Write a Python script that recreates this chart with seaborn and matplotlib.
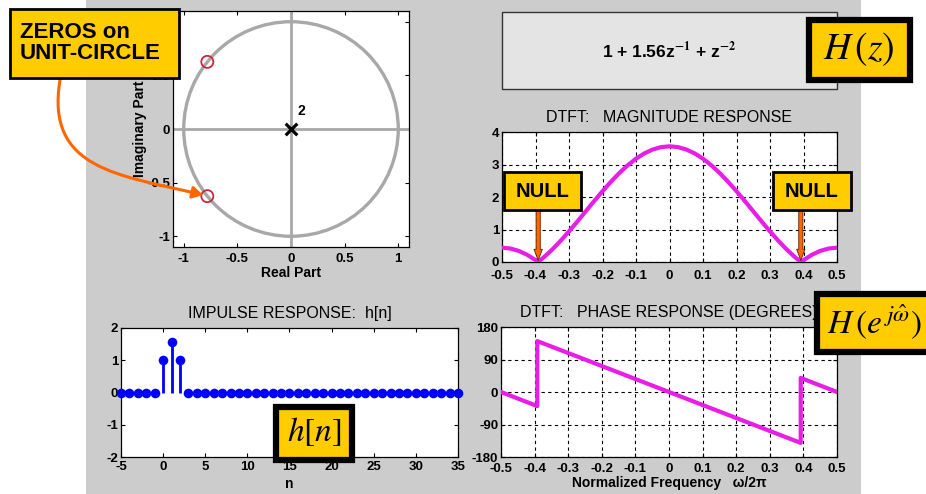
import numpy as np
import pandas as pd
import matplotlib
matplotlib.use('Agg')
import matplotlib.pyplot as plt
import seaborn as sns
from matplotlib.patches import Rectangle, FancyArrowPatch
from matplotlib.path import Path

# ------------------------------------------------------------
#  Data
# ------------------------------------------------------------
zero_re = [-0.78, -0.78]
zero_im = [0.626, -0.626]
pole_re = [0.0]
pole_im = [0.0]
pole_order = "2"

n_vals = [-5, -4, -3, -2, -1, 0, 1, 2, 3, 4, 5, 6, 7, 8, 9, 10, 11, 12, 13, 14,
          15, 16, 17, 18, 19, 20, 21, 22, 23, 24, 25, 26, 27, 28, 29, 30, 31,
          32, 33, 34, 35]
h_vals = [0, 0, 0, 0, 0, 1, 1.56, 1, 0, 0, 0, 0, 0, 0, 0, 0, 0, 0, 0, 0,
          0, 0, 0, 0, 0, 0, 0, 0, 0, 0, 0, 0, 0, 0, 0, 0, 0, 0, 0, 0, 0]

freq = [-0.5, -0.475, -0.45, -0.425, -0.4, -0.392, -0.375, -0.35, -0.325, -0.3,
        -0.275, -0.25, -0.225, -0.2, -0.175, -0.15, -0.125, -0.1, -0.075, -0.05,
        -0.025, 0.0, 0.025, 0.05, 0.075, 0.1, 0.125, 0.15, 0.175, 0.2, 0.225,
        0.25, 0.275, 0.3, 0.325, 0.35, 0.375, 0.392, 0.4, 0.425, 0.45, 0.475, 0.5]
mag = [0.44, 0.415, 0.342, 0.222, 0.058, 0.0, 0.146, 0.384, 0.652, 0.942,
       1.247, 1.56, 1.873, 2.178, 2.468, 2.736, 2.974, 3.178, 3.342, 3.462,
       3.535, 3.56, 3.535, 3.462, 3.342, 3.178, 2.974, 2.736, 2.468, 2.178, 1.873,
       1.56, 1.247, 0.942, 0.652, 0.384, 0.146, 0.0, 0.058, 0.222, 0.342, 0.415, 0.44]

phase_f = [-0.5, -0.392, -0.392, 0.392, 0.392, 0.5]
phase_deg = [0, -39, 141, -141, 39, 0]

null_f = [-0.392, 0.392]

freq_ticks = [-0.5, -0.4, -0.3, -0.2, -0.1, 0, 0.1, 0.2, 0.3, 0.4, 0.5]
freq_labels = ["-0.5", "-0.4", "-0.3", "-0.2", "-0.1", "0", "0.1", "0.2", "0.3", "0.4", "0.5"]

# ------------------------------------------------------------
#  Style
# ------------------------------------------------------------
sns.set_theme(style="ticks")
plt.rcParams['font.family'] = ['Liberation Sans', 'DejaVu Sans']
plt.rcParams['mathtext.fontset'] = 'stix'
plt.rcParams['axes.unicode_minus'] = False
plt.rcParams['text.color'] = 'black'
plt.rcParams['axes.labelcolor'] = 'black'
plt.rcParams['xtick.color'] = 'black'
plt.rcParams['ytick.color'] = 'black'
plt.rcParams['xtick.direction'] = 'in'
plt.rcParams['ytick.direction'] = 'in'
plt.rcParams['xtick.major.size'] = 3
plt.rcParams['ytick.major.size'] = 3
plt.rcParams['ytick.major.pad'] = 2

W, H = 926, 494
GRIS = '#CCCCCC'
JAUNE = '#FFCC00'
ORANGE = '#FF6600'
MAGENTA = '#E81EE8'
BLEU = '#0000FF'

fig = plt.figure(figsize=(W / 100, H / 100), dpi=100)
fig.patch.set_facecolor('white')


def rect_px(x0, y0, x1, y1):
    """pixels (haut-gauche) -> fraction de figure"""
    return [x0 / W, 1 - y1 / H, (x1 - x0) / W, (y1 - y0) / H]


def fx(x):
    return x / W


def fy(y):
    return 1 - y / H


def style_axes(ax, xpad=4):
    for s in ax.spines.values():
        s.set_color('black')
        s.set_linewidth(0.9)
    ax.tick_params(top=True, right=True, labelsize=9.5, colors='black', width=0.8)
    ax.tick_params(axis='x', pad=xpad)
    for lab in ax.get_xticklabels() + ax.get_yticklabels():
        lab.set_fontweight('bold')


# fond gris
fig.patches.append(Rectangle((fx(86), 0), fx(861) - fx(86), 1, transform=fig.transFigure,
                             facecolor=GRIS, edgecolor='none', zorder=-5))

# ------------------------------------------------------------
#  Pole-zero plot
# ------------------------------------------------------------
ax_pz = fig.add_axes(rect_px(173, 11, 409, 247))
ax_pz.set_facecolor('white')
ax_pz.axhline(0, color='#A8A8A8', lw=2, zorder=1)
ax_pz.axvline(0, color='#A8A8A8', lw=2, zorder=1)
ax_pz.add_patch(plt.Circle((0, 0), 1, fill=False, color='#A8A8A8', lw=2.4, zorder=2))
df_z = pd.DataFrame({'re': zero_re, 'im': zero_im})
sns.scatterplot(data=df_z, x='re', y='im', ax=ax_pz, marker='o', s=75,
                facecolors='none', edgecolor='#C8283C', linewidth=1.3, zorder=4)
df_p = pd.DataFrame({'re': pole_re, 'im': pole_im})
sns.scatterplot(data=df_p, x='re', y='im', ax=ax_pz, marker='x', s=70,
                color='black', linewidth=2.3, zorder=4)
ax_pz.text(pole_re[0] + 0.06, pole_im[0] + 0.1, pole_order, fontsize=10, fontweight='bold',
           ha='left', va='bottom')
ax_pz.set_xlim(-1.1, 1.1)
ax_pz.set_ylim(-1.1, 1.1)
ax_pz.set_xticks([-1, -0.5, 0, 0.5, 1])
ax_pz.set_xticklabels(["-1", "-0.5", "0", "0.5", "1"])
ax_pz.set_yticks([-1, -0.5, 0, 0.5, 1])
ax_pz.set_yticklabels(["-1", "-0.5", "0", "0.5", "1"])
ax_pz.set_xlabel('Real Part', fontsize=10, fontweight='bold', labelpad=1)
ax_pz.set_ylabel('Imaginary Part', fontsize=10, fontweight='bold', labelpad=0)
style_axes(ax_pz)

# ------------------------------------------------------------
#  Formula box
# ------------------------------------------------------------
fig.patches.append(Rectangle((fx(502), fy(89)), fx(837) - fx(502), fy(12) - fy(89),
                             transform=fig.transFigure, facecolor='#E4E4E4',
                             edgecolor='#333333', lw=1, zorder=1))
fig.text(fx(669), fy(51), r'1 + 1.56z$^{\mathbf{-1}}$ + z$^{\mathbf{-2}}$', fontsize=12.5,
         fontweight='bold', ha='center', va='center', zorder=3)

# ------------------------------------------------------------
#  Magnitude response
# ------------------------------------------------------------
ax_mag = fig.add_axes(rect_px(502, 132, 837, 262))
ax_mag.set_facecolor('white')
df_mag = pd.DataFrame({'f': freq, 'mag': mag})
sns.lineplot(data=df_mag, x='f', y='mag', ax=ax_mag, color=MAGENTA, lw=3, sort=False,
             estimator=None, zorder=3)
ax_mag.set_xlim(-0.5, 0.5)
ax_mag.set_ylim(0, 4)
ax_mag.set_xticks(freq_ticks)
ax_mag.set_xticklabels(freq_labels)
ax_mag.set_yticks([0, 1, 2, 3, 4])
ax_mag.grid(True, color='black', ls=(0, (3, 3)), lw=0.8)
ax_mag.set_xlabel('')
ax_mag.set_ylabel('')
ax_mag.set_title('DTFT:   MAGNITUDE RESPONSE', fontsize=11.5, pad=7, color='black')
style_axes(ax_mag, xpad=5.5)

# ------------------------------------------------------------
#  Impulse response
# ------------------------------------------------------------
ax_h = fig.add_axes(rect_px(121, 328, 458, 457))
ax_h.set_facecolor('white')
df_h = pd.DataFrame({'n': n_vals, 'h': h_vals})
df_nz = df_h[df_h['h'] != 0]
ax_h.vlines(df_nz['n'], 0, df_nz['h'], color=BLEU, lw=2, zorder=2)
sns.scatterplot(data=df_h, x='n', y='h', ax=ax_h, color=BLEU, s=48, edgecolor=BLEU,
                linewidth=0, zorder=3, clip_on=False)
ax_h.set_xlim(-5, 35)
ax_h.set_ylim(-2, 2)
ax_h.set_xticks([-5, 0, 5, 10, 15, 20, 25, 30, 35])
ax_h.set_yticks([-2, -1, 0, 1, 2])
ax_h.set_xlabel('n', fontsize=10, fontweight='bold', labelpad=3)
ax_h.set_ylabel('')
ax_h.set_title('IMPULSE RESPONSE:  h[n]', fontsize=11.5, pad=7, color='black')
style_axes(ax_h, xpad=3)

# ------------------------------------------------------------
#  Phase response
# ------------------------------------------------------------
ax_ph = fig.add_axes(rect_px(501, 327, 837, 457))
ax_ph.set_facecolor('white')
df_ph = pd.DataFrame({'f': phase_f, 'deg': phase_deg})
sns.lineplot(data=df_ph, x='f', y='deg', ax=ax_ph, color=MAGENTA, lw=3, sort=False,
             estimator=None, zorder=3)
ax_ph.set_xlim(-0.5, 0.5)
ax_ph.set_ylim(-180, 180)
ax_ph.set_xticks(freq_ticks)
ax_ph.set_xticklabels(freq_labels)
ax_ph.set_yticks([-180, -90, 0, 90, 180])
ax_ph.grid(True, color='black', ls=(0, (3, 3)), lw=0.8)
ax_ph.set_xlabel('Normalized Frequency   \u03c9/2\u03c0', fontsize=10, fontweight='bold',
                 labelpad=1)
ax_ph.set_ylabel('')
ax_ph.set_title('DTFT:   PHASE RESPONSE (DEGREES)', fontsize=11.5, pad=7, color='black')
style_axes(ax_ph)

# ------------------------------------------------------------
#  Yellow annotation boxes
# ------------------------------------------------------------
def boite_jaune(x0, y0, x1, y1, lw):
    fig.patches.append(Rectangle((fx(x0), fy(y1)), fx(x1) - fx(x0), fy(y0) - fy(y1),
                                 transform=fig.transFigure, facecolor=JAUNE,
                                 edgecolor='black', lw=lw, zorder=5))


boite_jaune(10, 9, 179, 78, 2)
fig.text(fx(20), fy(43), 'ZEROS on\nUNIT-CIRCLE', fontsize=16, fontweight='bold',
         ha='left', va='center', linespacing=1.05, zorder=6)

boite_jaune(809, 20, 910, 80, 4.5)
fig.text(fx(859), fy(49), r'$H\,(z)$', fontsize=27, ha='center', va='center', zorder=6)

boite_jaune(276, 407, 352, 460, 4.5)
fig.text(fx(314), fy(432), r'$h[n]$', fontsize=24, ha='center', va='center', zorder=6)

boite_jaune(817, 294, 935, 352, 4.5)
fig.text(fx(827), fy(322), r'$H\,(e^{\,j\hat{\omega}})$', fontsize=24, ha='left',
         va='center', zorder=6)

# curved arrow towards the lower zero
p0 = (fx(60), fy(80))
p1 = (fx(45), fy(170))
p2 = (fx(120), fy(175))
p3 = (fx(203), fy(195))
chemin = Path([p0, p1, p2, p3], [Path.MOVETO, Path.CURVE4, Path.CURVE4, Path.CURVE4])
fleche = FancyArrowPatch(path=chemin, transform=fig.transFigure, arrowstyle='-|>,head_length=6,head_width=3.5',
                         color=ORANGE, lw=2.2, zorder=4)
fig.patches.append(fleche)

# NULL boxes and arrows
for f_null, (bx0, bx1) in zip(null_f, [(504, 581), (773, 851)]):
    boite_jaune(bx0, 172, bx1, 210, 2)
    fig.text(fx((bx0 + bx1) / 2), fy(191), 'NULL', fontsize=14.5, fontweight='bold',
             ha='center', va='center', zorder=6)
    x_disp = ax_mag.transData.transform((f_null, 0.05))
    x_fig = fig.transFigure.inverted().transform(x_disp)
    fl = FancyArrowPatch((x_fig[0], fy(210)), (x_fig[0], x_fig[1]), transform=fig.transFigure,
                         arrowstyle='simple,head_length=8,head_width=6,tail_width=3',
                         facecolor=ORANGE, edgecolor='#5A2000', lw=0.6, zorder=4,
                         shrinkA=0, shrinkB=0)
    fig.patches.append(fl)

fig.savefig('out.png', dpi=100, facecolor='white')
